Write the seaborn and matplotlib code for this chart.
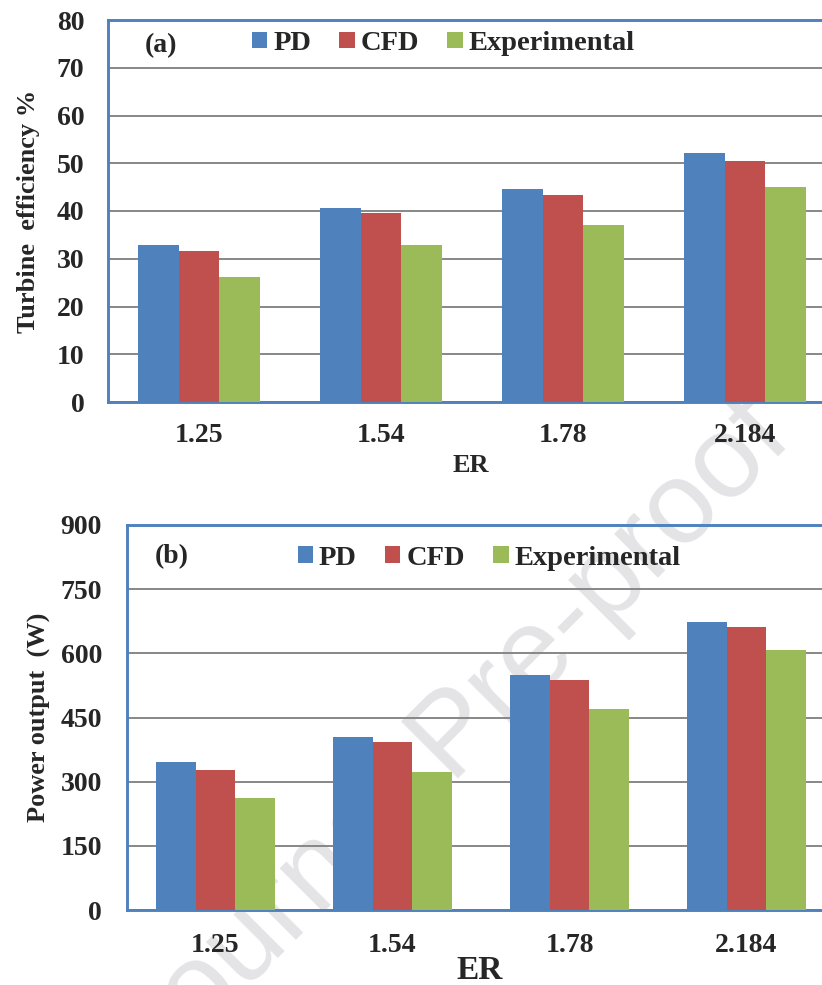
import matplotlib
matplotlib.use("Agg")
import matplotlib.pyplot as plt
import seaborn as sns
import pandas as pd
from matplotlib.patches import Patch

# Expansion ratios on the horizontal axis
er_labels = ["1.25", "1.54", "1.78", "2.184"]
methods = ["PD", "CFD", "Experimental"]

# (a) turbine efficiency, %
eff_pd = [32.9, 40.6, 44.7, 52.1]
eff_cfd = [31.6, 39.5, 43.4, 50.4]
eff_exp = [26.2, 32.9, 37.1, 45.0]

# (b) power output, W
pow_pd = [347, 405, 549, 674]
pow_cfd = [327, 393, 538, 662]
pow_exp = [261, 323, 471, 607]

eff_ticks = [0, 10, 20, 30, 40, 50, 60, 70, 80]
pow_ticks = [0, 150, 300, 450, 600, 750, 900]

colors = ["#4F81BD", "#C0504D", "#9BBB59"]
BLUE_FRAME = "#4F81BD"
GRID = "#878787"


def long_table(pd_vals, cfd_vals, exp_vals):
    rows = []
    for name, vals in zip(methods, [pd_vals, cfd_vals, exp_vals]):
        for er, v in zip(er_labels, vals):
            rows.append({"ER": er, "Method": name, "Value": v})
    return pd.DataFrame(rows)


sns.set_style("white")
plt.rcParams["font.family"] = ["Liberation Serif", "DejaVu Serif"]
plt.rcParams["font.weight"] = "bold"

W, H = 822, 985
fig = plt.figure(figsize=(W / 100, H / 100), dpi=100)
fig.patch.set_facecolor("white")

# faint diagonal watermark behind both panels
fig.text(455 / W, 1 - 738 / H, "Journal Pre-proof", rotation=45,
         rotation_mode="anchor", ha="center", va="center",
         fontsize=84, color="#e4e4e6", family="Liberation Sans",
         fontweight="normal", zorder=-5)

TICK_SIZE = 20
LEG_SIZE = 20.5


def draw_panel(rect, data, ticks, ylabel, tag, px_per_cat, left_px, right_px,
               ylab_x, xlab_pos, xlab_size, leg_anchor, tag_pos, xpad, ylen):
    ax = fig.add_axes(rect)
    ax.set_facecolor("none")
    sns.barplot(data=data, x="ER", y="Value", hue="Method", hue_order=methods,
                order=er_labels, palette=colors, saturation=1, width=0.667,
                edgecolor="none", linewidth=0, legend=False, ax=ax, zorder=3)
    ax.set_ylim(ticks[0], ticks[-1])
    ax.set_yticks(ticks)
    ax.set_xlim(-0.5, -0.5 + (right_px - left_px) / px_per_cat)

    # category boundaries carry the tick marks, centres carry the labels
    ax.set_xticks([-0.5, 0.5, 1.5, 2.5])
    ax.set_xticklabels([])
    ax.set_xticks(range(len(er_labels)), minor=True)
    ax.set_xticklabels(er_labels, minor=True, fontsize=TICK_SIZE,
                       fontweight="bold")
    ax.tick_params(axis="x", which="minor", length=0, pad=xpad)
    ax.tick_params(axis="x", which="major", length=4, width=1.3,
                   color=GRID, direction="out")
    ax.tick_params(axis="y", length=ylen, width=1.3, color=GRID, pad=11,
                   labelsize=TICK_SIZE)
    for lab in ax.get_yticklabels():
        lab.set_fontweight("bold")

    ax.yaxis.grid(True, color=GRID, linewidth=1.4)
    ax.xaxis.grid(False)
    ax.set_axisbelow(True)

    for side in ("top", "left", "bottom"):
        ax.spines[side].set_visible(True)
        ax.spines[side].set_color(BLUE_FRAME)
        ax.spines[side].set_linewidth(2.1)
    ax.spines["right"].set_visible(False)

    ax.set_ylabel(ylabel, fontsize=19, fontweight="bold", va="center")
    ax.yaxis.set_label_coords(ylab_x, 0.5)
    ax.set_xlabel("ER", fontsize=xlab_size, fontweight="bold", va="center")
    ax.xaxis.set_label_coords(*xlab_pos)

    handles = [Patch(facecolor=c, edgecolor="none") for c in colors]
    ax.legend(handles, methods, ncol=3, loc="center left",
              bbox_to_anchor=leg_anchor, frameon=False,
              handlelength=0.53, handleheight=0.53, handletextpad=0.21,
              columnspacing=1.0, borderpad=0, borderaxespad=0,
              prop={"family": "Liberation Serif", "weight": "bold",
                    "size": LEG_SIZE})
    ax.text(*tag_pos, tag, transform=ax.transAxes, ha="center", va="center",
            fontsize=20, fontweight="bold")
    return ax


# (a) efficiency panel
draw_panel([108 / W, 1 - 402 / H, (W - 108) / W, 382 / H],
           long_table(eff_pd, eff_cfd, eff_exp), eff_ticks,
           "Turbine  efficiency %", "(a)", 182, 108, W,
           ylab_x=-0.112, xlab_pos=(0.508, -0.165), xlab_size=19,
           leg_anchor=(0.2017, 0.938), tag_pos=(0.074, 0.932),
           xpad=15, ylen=6)

# (b) power panel
draw_panel([127 / W, 1 - 910 / H, (W - 127) / W, 385 / H],
           long_table(pow_pd, pow_cfd, pow_exp), pow_ticks,
           "Power output  (W)", "(b)", 177, 127, W,
           ylab_x=-0.1266, xlab_pos=(0.508, -0.156), xlab_size=24,
           leg_anchor=(0.246, 0.914), tag_pos=(0.065, 0.917),
           xpad=16.5, ylen=7)

fig.savefig("out.png", dpi=100, facecolor="white")
